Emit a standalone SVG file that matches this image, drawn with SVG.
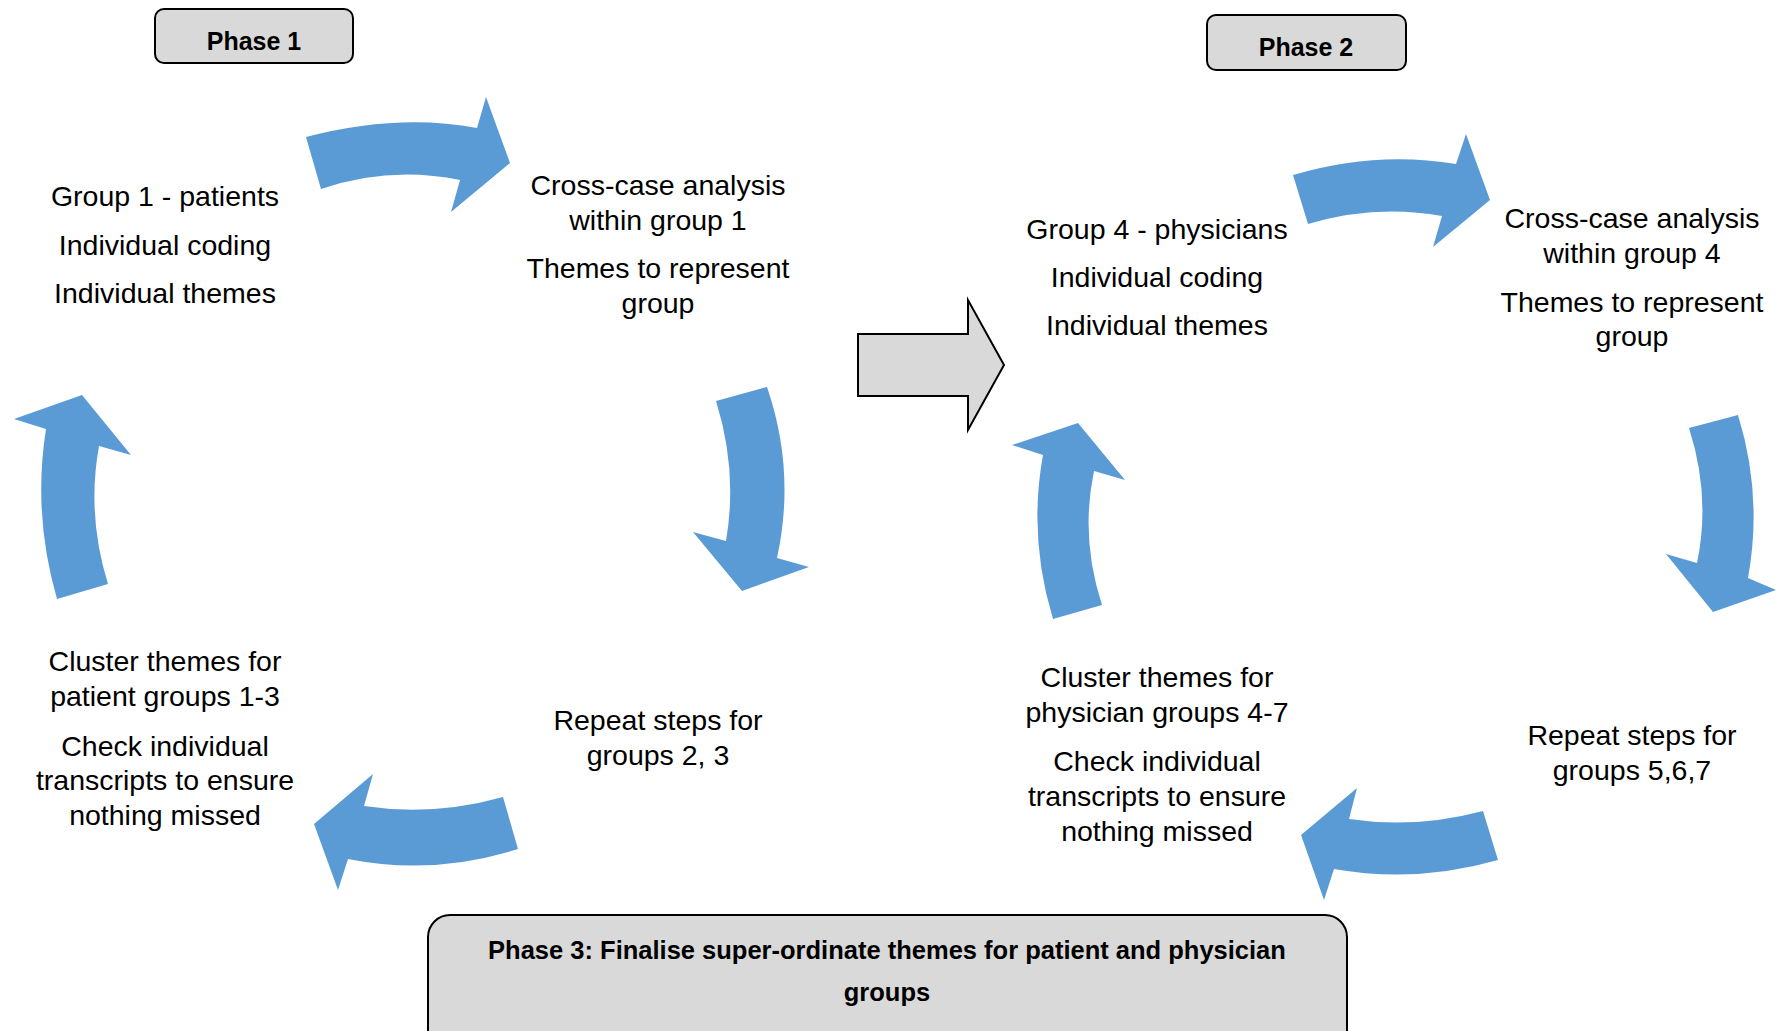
<svg xmlns="http://www.w3.org/2000/svg" width="1776" height="1031" viewBox="0 0 1776 1031">
<style>
.t{font-family:"Liberation Sans",Arial,sans-serif;font-size:28.5px;fill:#000;text-anchor:middle}
.b{font-family:"Liberation Sans",Arial,sans-serif;font-weight:bold;fill:#000;text-anchor:middle}
.box{fill:#D9D9D9;stroke:#000;stroke-width:2}
.arr{fill:#5B9BD5;stroke:none}
</style>
<rect width="1776" height="1031" fill="#fff"/>
<g id="phase1">
<rect class="box" x="155" y="9" width="198" height="54" rx="9"/>
<text class="b" x="254" y="50" font-size="25">Phase 1</text>
</g>
<g id="phase2">
<rect class="box" x="1207" y="15" width="199" height="55" rx="9"/>
<text class="b" x="1306" y="56" font-size="25">Phase 2</text>
</g>
<g id="phase3">
<rect class="box" x="428" y="915" width="919" height="150" rx="22"/>
<text class="b" x="887" y="959" font-size="25.5">Phase 3: Finalise super-ordinate themes for patient and physician</text>
<text class="b" x="887" y="1001" font-size="25.5">groups</text>
</g>
<g id="group1">
<text class="t" x="165" y="206">Group 1 - patients</text>
<text class="t" x="165" y="255">Individual coding</text>
<text class="t" x="165" y="303">Individual themes</text>
</g>
<g id="crosscase1">
<text class="t" x="658" y="195">Cross-case analysis</text>
<text class="t" x="658" y="230">within group 1</text>
<text class="t" x="658" y="278">Themes to represent</text>
<text class="t" x="658" y="313">group</text>
</g>
<g id="repeat23">
<text class="t" x="658" y="730">Repeat steps for</text>
<text class="t" x="658" y="765">groups 2, 3</text>
</g>
<g id="cluster13">
<text class="t" x="165" y="671">Cluster themes for</text>
<text class="t" x="165" y="706">patient groups 1-3</text>
<text class="t" x="165" y="756">Check individual</text>
<text class="t" x="165" y="790">transcripts to ensure</text>
<text class="t" x="165" y="825">nothing missed</text>
</g>
<g id="group4">
<text class="t" x="1157" y="239">Group 4 - physicians</text>
<text class="t" x="1157" y="287">Individual coding</text>
<text class="t" x="1157" y="335">Individual themes</text>
</g>
<g id="crosscase4">
<text class="t" x="1632" y="228">Cross-case analysis</text>
<text class="t" x="1632" y="263">within group 4</text>
<text class="t" x="1632" y="312">Themes to represent</text>
<text class="t" x="1632" y="346">group</text>
</g>
<g id="repeat567">
<text class="t" x="1632" y="745">Repeat steps for</text>
<text class="t" x="1632" y="780">groups 5,6,7</text>
</g>
<g id="cluster47">
<text class="t" x="1157" y="687">Cluster themes for</text>
<text class="t" x="1157" y="722">physician groups 4-7</text>
<text class="t" x="1157" y="771">Check individual</text>
<text class="t" x="1157" y="806">transcripts to ensure</text>
<text class="t" x="1157" y="841">nothing missed</text>
</g>
<g id="connectors">
<path class="arr" d="M306,137 Q398,113 477,128 L486,97 L510,163 L451,212 L460,180 Q389.5,165.5 321,189 Z"/>
<path class="arr" d="M716,401 L767,387 Q796,471.5 777,558 L809,567 L742,591 L693,532 L726,541 Q738,471 716,401 Z"/>
<path class="arr" d="M503,797 L518,849 Q433,876 348,859 L338,890 L314,824 L373,774 L364,806 Q433.5,816.5 503,797 Z"/>
<path class="arr" d="M57,599 L108,584 Q86.5,515 99,446 L131,455 L82,395 L14,419 L46,429 Q32.5,514 57,599 Z"/>
<path class="arr" d="M1293,175 L1308,224 Q1375,204 1442,216 L1433,247 L1490,200 L1466,134 L1456,164 Q1375.5,150.5 1293,175 Z"/>
<path class="arr" d="M1689,428 L1738,415 Q1763,495.5 1748,578 L1776,590 L1713,612 L1666,554 L1697,563 Q1711,496.5 1689,428 Z"/>
<path class="arr" d="M1483,811 L1498,860 Q1416,883.5 1334,869 L1324,900 L1301,835 L1357,788 L1349,819 Q1416,829 1483,811 Z"/>
<path class="arr" d="M1053,619 L1102,605 Q1080,538 1094,471 L1125,480 L1078,423 L1012,445 L1043,455 Q1028,537 1053,619 Z"/>
<path class="box" d="M858,334 L968,334 L968,300 L1004,365 L968,430 L968,396 L858,396 Z"/>
</g>
</svg>
